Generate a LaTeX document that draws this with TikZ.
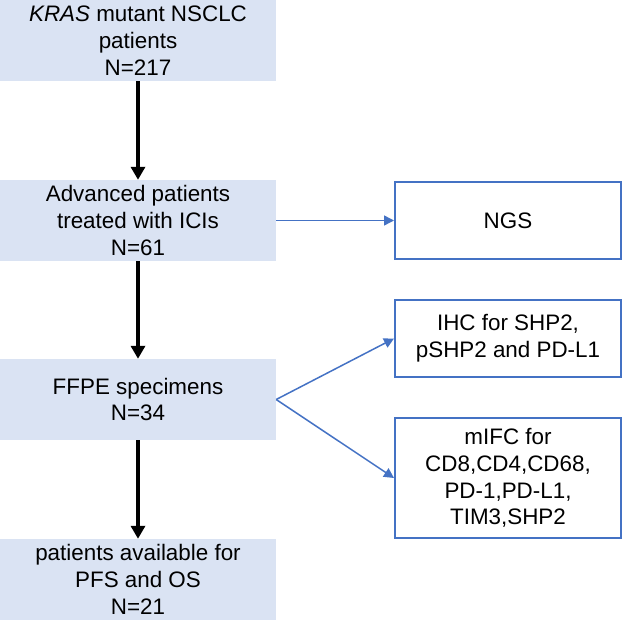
\documentclass[tikz,border=0pt]{standalone}
\usepackage{fontspec}
\setmainfont{Liberation Sans}
\usetikzlibrary{arrows.meta}
\definecolor{boxfill}{HTML}{DAE3F3}
\definecolor{lineblue}{HTML}{4472C4}
\tikzset{
	stepbox/.style={fill=boxfill, inner sep=0pt, minimum width=276pt, minimum height=81pt, align=center, font=\fontsize{22.4}{26.8}\selectfont},
	sidebox/.style={draw=lineblue, line width=2pt, fill=white, inner sep=0pt, minimum width=226pt, minimum height=77pt, align=center, font=\fontsize{22.4}{26.8}\selectfont},
	flow/.style={line width=4pt, -{Triangle[width=14pt,length=13pt]}},
	branch/.style={lineblue, line width=1.5pt, -{Triangle[width=10pt,length=10pt]}}
}
\begin{document}
\begin{tikzpicture}[x=1pt,y=-1pt]
	\useasboundingbox (0,0) rectangle (623,620);
	% left column
	\node[stepbox] (Start)   at (138,40.5)  {\textit{KRAS} mutant NSCLC\\patients\\N=217};
	\node[stepbox] (Treated) at (138,220.5) {Advanced patients\\treated with ICIs\\N=61};
	\node[stepbox] (FFPE)    at (138,399.5) {FFPE specimens\\N=34};
	\node[stepbox] (Avail)   at (138,579.5) {patients available for\\PFS and OS\\N=21};
	% right column
	\node[sidebox] (NGS)  at (508,220.5) {NGS};
	\node[sidebox] (IHC)  at (508,338.5) {IHC for SHP2,\\pSHP2 and PD-L1};
	\node[sidebox, minimum height=120pt] (mIFC) at (508,478) {mIFC for\\CD8,CD4,CD68,\\PD-1,PD-L1,\\TIM3,SHP2};
	
	\draw [flow] (Start) -- (Treated);
	\draw [flow] (Treated) -- (FFPE);
	\draw [flow] (FFPE) -- (Avail);
	
	\draw [branch] (Treated) -- (NGS);
	\draw [branch] (FFPE.east) -- (IHC.west);
	\draw [branch] (FFPE.east) -- (mIFC.west);
\end{tikzpicture}
\end{document}
